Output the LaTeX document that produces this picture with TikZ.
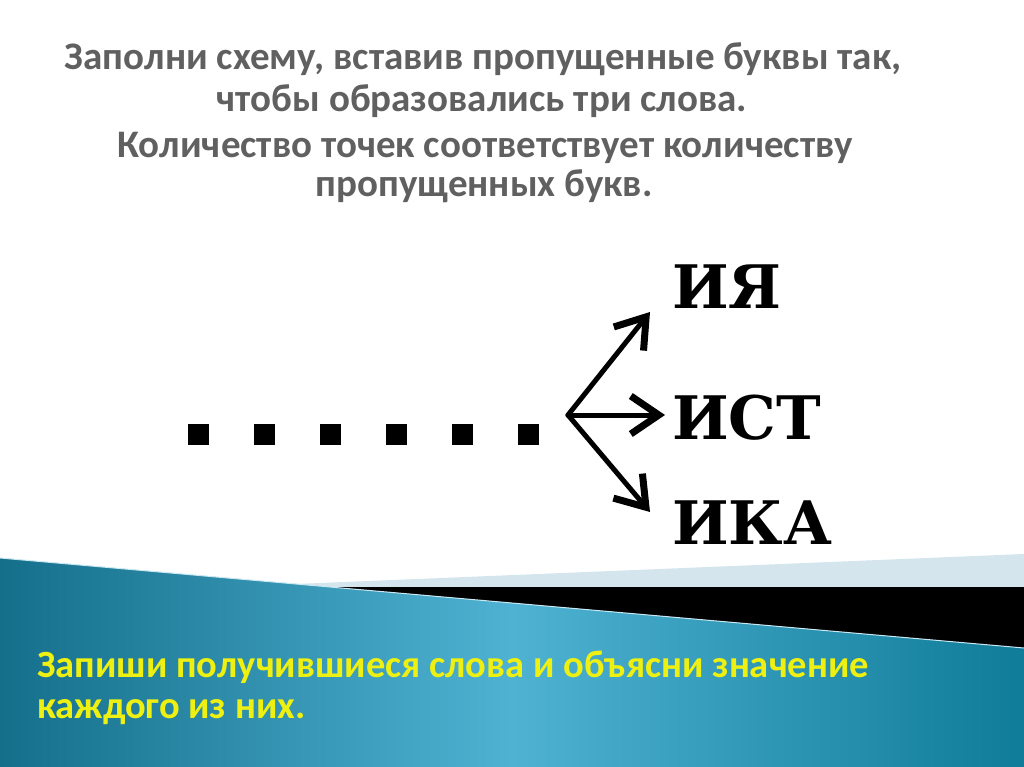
\documentclass[tikz,border=0pt]{standalone}
\usepackage{fontspec}
\setmainfont{Carlito}
\newfontfamily\wordfont{DejaVu Serif}
\usepackage{xcolor}
\usepackage{tikz}
\usetikzlibrary{positioning,arrows.meta,calc}
\definecolor{taskgrey}{HTML}{606060}
\definecolor{taskyellow}{HTML}{EEF011}
\definecolor{seadark}{HTML}{146F8B}
\definecolor{sealight}{HTML}{4FB2D2}
\definecolor{seaedge}{HTML}{0F7C99}
\definecolor{paleband}{HTML}{D4E5ED}
\tikzset{
  task/.style={font=\fontsize{39}{42}\selectfont\bfseries, text=taskgrey,
               inner sep=0pt, anchor=base},
  note/.style={font=\fontsize{38.5}{41}\selectfont\bfseries, text=taskyellow,
               inner sep=0pt, anchor=base west},
  word/.style={font=\wordfont\fontsize{60}{60}\selectfont\bfseries,
               inner sep=0pt, anchor=base west},
  dotsq/.style={rectangle, fill=black, minimum size=21pt, inner sep=0pt},
  ar/.style={-{Straight Barb[length=28pt,width=38pt,line width=7pt]},
             line width=5pt, line cap=round, draw=black},
}

\begin{document}
\begin{tikzpicture}[x=1pt,y=-1pt]
  \useasboundingbox[fill=white] (0,0) rectangle (1024,767);

  % bottom band
  \fill[paleband] (150,590) -- (1024,554) -- (1024,587) -- cycle;
  \fill[black] (330,587) -- (1024,587) -- (1024,648) -- cycle;
  \shade[left color=seadark, right color=seaedge, middle color=sealight]
    (0,558) -- (1024,648) -- (1024,767) -- (0,767) -- cycle;
  \draw[white!70!sealight, line width=1pt] (0,558) -- (1024,648);

  % task text
  \node[task] (l1) at (483,70) {Заполни схему, вставив пропущенные буквы так,};
  \node[task] (l2) at (482,112) {чтобы образовались три слова.};
  \node[task] (l3) at (485,158) {Количество точек соответствует количеству};
  \node[task] (l4) at (484,197) {пропущенных букв.};

  % missing letters
  \foreach \i in {1,...,6}
    \node[dotsq] (d\i) at ({132+66*\i},434) {};

  % endings
  \node[word] (ia) at (672,308) {ИЯ};
  \node[word] (ist) at (672,439) {ИСТ};
  \node[word] (ika) at (672,544) {ИКА};

  \coordinate (fork) at (568,415);
  \coordinate (t1) at ($(ia.base west)+(-22,4)$);
  \coordinate (t2) at ($(ist.base west)+(-7,-24)$);
  \coordinate (t3) at ($(ika.base west)+(-22,-32)$);
  \draw[ar] (fork) -- (t1);
  \draw[ar] (fork) -- (t2);
  \draw[ar] (fork) -- (t3);

  \node[note] (n1) at (37,677) {Запиши получившиеся слова и объясни значение};
  \node[note] (n2) at (37,718) {каждого из них.};
\end{tikzpicture}
\end{document}
